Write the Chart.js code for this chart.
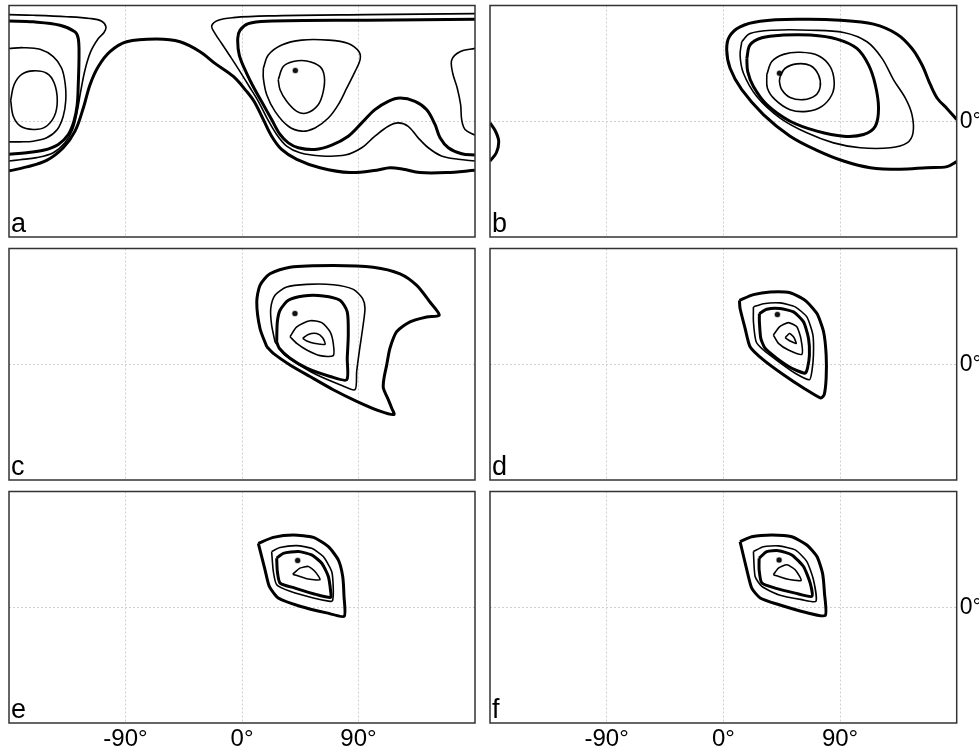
<!DOCTYPE html>
<html><head><meta charset="utf-8">
<script src="https://cdn.jsdelivr.net/npm/chart.js@4/dist/chart.umd.min.js"></script>
<style>
html,body{margin:0;padding:0;background:#fff;width:979px;height:748px;overflow:hidden;position:relative}
canvas{position:absolute}
</style></head><body>
<canvas id="pa" width="490" height="243" style="left:0;top:0"></canvas>
<canvas id="pb" width="499" height="243" style="left:480px;top:0"></canvas>
<canvas id="pc" width="490" height="243" style="left:0;top:243px"></canvas>
<canvas id="pd" width="499" height="243" style="left:480px;top:243px"></canvas>
<canvas id="pe" width="490" height="262" style="left:0;top:486px"></canvas>
<canvas id="pf" width="499" height="262" style="left:480px;top:486px"></canvas>
<script>
// ---------- axes ----------
const lonTicks = [-90, 0, 90];
const lonTickLabels = ['-90°', '0°', '90°'];
const latTicks = [0];
const latTickLabels = ['0°'];
const panelLabels = ['a', 'b', 'c', 'd', 'e', 'f'];

// ---------- panel a contours [lon, lat] ----------
const aL1 = [[-178.7,16.2],[-176.1,28.4],[-170.2,36.5],[-161.2,39.2],[-150.9,37.3],[-145,29.6],[-142.7,16.2],[-145,3.9],[-152.2,-4.6],[-161.2,-6.4],[-171,-3.9],[-176.7,3.9],[-178.7,16.2]];
const aL2 = [[-180,56.6],[-168.9,57.2],[-156,55.9],[-145.8,50.2],[-139.3,41.2],[-136.5,28.4],[-136.2,15.5],[-138.1,3.9],[-142.7,-6.4],[-150.9,-12.9],[-161.2,-15.5],[-171.5,-16],[-180,-16]];
const aL3 = [[-180,78],[-161.2,77.3],[-140.6,74.7],[-129,69.5],[-126.5,64.3],[-125.9,51.5],[-126.5,28.4],[-127.3,12.9],[-129.8,0],[-134.2,-10.3],[-141.9,-18],[-153.5,-22.6],[-166.3,-24.5],[-180,-25.7]];
const aL4 = [[-180,82.9],[-161.2,82.4],[-135.4,81.3],[-117.4,79.9],[-108.4,77.8],[-105.1,73.4],[-106.6,69],[-111,64.3],[-116.9,54.1],[-121.3,39.9],[-124.6,23.2],[-127.3,7.7],[-130.8,-6.4],[-136.8,-16.8],[-145.8,-24.5],[-158.6,-28.3],[-171.5,-29.9],[-180,-30.9]];
const aL5 = [[-180,-38.6],[-166.3,-35.5],[-150.9,-30.4],[-138.1,-20.6],[-129,-7.7],[-122.6,10.3],[-117.4,28.4],[-111,42.5],[-102,54.1],[-89.1,61.8],[-65.9,63.9],[-47.9,61.8],[-32.4,54.1],[-20.9,45],[-6.7,34.8],[3.6,23.2],[9.3,15.5],[16.5,1.3],[22.9,-11.6],[30.6,-21.9],[42.3,-29.6],[60.3,-36.1],[83.4,-39.9],[104,-38.1],[114.3,-36.1],[124.6,-37.3],[137.5,-39.9],[158.1,-39.9],[180,-38.1]];
const aR1 = [[180,83.7],[96.3,82.9],[20.3,81.9],[-6.7,80.6],[-18.3,78.6],[-23.4,74.2],[-20.9,68.3],[-15.7,60.5],[-9.8,51.5],[-1.5,38.6],[5.6,27],[12.6,15.5],[19.9,1.3],[26.8,-10.3],[34.5,-19.3],[44.8,-24.5],[61.6,-27],[79.6,-26.3],[92.5,-20.6],[102.7,-11.6],[113,-3.9],[120.7,-1.3],[128.4,-3.9],[136.1,-12.9],[143.9,-20.6],[154.1,-27],[167,-29.6],[180,-30.9]];
const aR2 = [[180,79.3],[96.3,78.6],[19.1,77.8],[4.9,75.9],[-1.5,70.8],[-3.3,64.3],[-2.1,51.5],[3.6,37.3],[10,24.5],[16.5,12.9],[22.9,1.3],[29.4,-10.3],[35.8,-16.8],[43.5,-20.6],[56.4,-21.9],[69.3,-18.5],[82.1,-11.6],[92.5,-1.3],[102.7,9],[113,15.5],[122.1,18],[133.6,15.5],[142.7,9],[149.1,-2.5],[153,-12.9],[159.4,-20.6],[169.7,-25.3],[180,-26.3]];
const aR3 = [[16.5,41.2],[20.3,51.5],[30.7,59.3],[46.1,63.1],[66.7,63.1],[82.1,60.5],[90.4,54.1],[91.2,47.7],[87.3,38.6],[80.9,25.7],[74.4,12.9],[66.7,2.5],[56.4,-5.2],[46.1,-7.7],[35.8,-3.9],[25.5,7.7],[19.1,20.6],[16.5,33.4],[16.5,41.2]];
const aR4 = [[28,32.2],[31.9,42.5],[39.6,46.4],[50,46.9],[60.3,42.5],[63.6,34.8],[62.8,23.2],[58.9,12.9],[50,6.4],[42.3,7.7],[34.5,15.5],[29.4,24.5],[28,32.2]];
const aR5 = [[180,56.7],[168.4,54.1],[162,47.7],[162.8,37.3],[166.3,25.7],[168.9,12.9],[169.7,1.3],[172.3,-6.4],[180,-10.8]];
const aMax = [41.2, 39.4];

// ---------- panel b ----------
const b1 = [[180,1.3],[172.6,9.8],[165.3,17.5],[159.7,28.4],[153.3,43.7],[145.5,56.6],[134,67.7],[115.9,75.5],[90.2,78.6],[59.3,79.3],[28.4,77.8],[12.9,73.4],[4.6,65.7],[2.6,55.4],[5.2,41.2],[14.2,24.5],[30.9,5.2],[51.5,-11.6],[72.2,-22.6],[92.7,-30.9],[113.3,-36.1],[136.5,-37.3],[157.1,-36.1],[172.6,-35.3],[180,-31.4]];
const b1w = [[-180,-1.3],[-175.8,-7.7],[-173.3,-15.5],[-175.1,-24.5],[-180,-30.9]];
const b2 = [[14.2,61.8],[20.6,68.2],[38.6,70.8],[67,70.8],[92.7,69],[110.8,61.8],[122.4,48.9],[131.3,32.2],[140.4,18],[145.5,5.2],[146.3,-9],[141.7,-16.8],[128.8,-20.6],[105.6,-20.6],[85,-16.8],[64.4,-9],[43.8,2.5],[25.8,19.3],[15.5,37.3],[12.9,51.5],[14.2,61.8]];
const b3 = [[18.1,48.9],[20.6,59.3],[29.7,64.9],[46.4,67],[67,67],[87.6,63.9],[103,56.6],[112,43.8],[117.2,28.4],[119.7,10.3],[117.2,-3.9],[108.2,-10.3],[92.7,-11.6],[72.2,-7.7],[51.5,0],[33.5,12.9],[23.2,27],[18.8,38.6],[18.1,48.9]];
const b4 = [[33.5,36.1],[37.4,46.4],[46.4,52],[59.3,53.6],[73.4,51],[82.4,42.5],[85.5,30.9],[83.7,20.6],[76,11.6],[64.4,7.7],[51.5,9],[39.9,16.8],[34,25.7],[33.5,36.1]];
const b5 = [[43.8,34.8],[47.7,41.2],[56.7,44.6],[67,43.3],[73.4,36.1],[74.7,27],[70.8,19.9],[61.8,16.8],[51.5,18.5],[45.1,24.5],[43.3,30.9],[43.8,34.8]];
const bMax = [43.3, 37.3];

// ---------- panel c ----------
const c1 = [[19.1,13.7],[13.9,27.8],[11.4,48.4],[13.9,61.3],[21.6,70.3],[37.1,75.5],[70.5,76.8],[101.4,75.5],[122.1,70.3],[135,61.3],[145.2,48.4],[152.4,38.2],[142.7,36.8],[129.8,33],[119.5,25.3],[114.3,12.4],[111.8,-0.5],[109.7,-10.8],[109.2,-18.5],[113,-27.5],[115.6,-34],[117.4,-39.1],[106.6,-36.5],[88.6,-28.8],[70.5,-19.8],[52.5,-9.5],[37.1,-0.5],[24.2,8.5],[19.1,13.7]];
const c2 = [[25.5,17.5],[22.9,30.4],[22.2,43.3],[25.5,53.6],[34.5,60],[50,62.1],[70.5,61.8],[86,58.2],[93.2,51],[95,43.3],[93.2,27.8],[90.6,9.8],[88.6,-5.6],[87.3,-19.8],[75.7,-15.9],[57.7,-8.2],[42.3,0.8],[31.9,8.5],[25.5,17.5]];
const c3 = [[26.8,17.5],[27.3,33],[29.4,42],[35.8,49.7],[47.4,53.1],[62.8,53.1],[75.7,49.7],[81.3,40.7],[82.1,22.7],[81.3,4.6],[80.9,-12.1],[68,-9.5],[50,-3.1],[37.1,4.6],[28.8,12.4],[26.8,17.5]];
const c4 = [[37.1,21.4],[42.3,29.1],[52.5,33.8],[61.6,32.4],[68,25.3],[70.5,16.2],[70.5,6.7],[60.3,6.7],[50,11.1],[42.3,16.2],[37.1,21.4]];
const c5 = [[46.9,20.1],[51.2,23.2],[57.7,23.9],[62.3,20.6],[64.1,15.5],[56.4,16.2],[50,18.1],[46.9,20.1]];
const cMax = [40.9, 39.4];

// ---------- panel d ----------
const d1 = [[12.4,49.7],[23.2,54.1],[36.1,56.2],[51.5,55.6],[63.1,49.7],[72.2,39.4],[77.3,25.3],[79.3,7.3],[79.3,-10.8],[77.8,-23.6],[75.2,-26.3],[61.8,-18.5],[46.4,-8.2],[30.9,3.4],[20.6,13.7],[16.8,27.8],[12.9,43.3],[12.4,49.7]];
const d2 = [[23.2,44.6],[30.9,47.1],[43.8,47.7],[55.4,44.6],[64.4,36.8],[69.1,22.7],[69.5,7.3],[68.3,-5.6],[66.4,-12.1],[55.4,-7],[42.5,2.1],[30.9,11.1],[25.3,17.5],[23.2,33],[23.2,44.6]];
const d3 = [[27.8,39.4],[33.5,42.8],[43.8,43.3],[54.1,40.7],[61.8,33],[65.7,20.1],[66.4,7.3],[64.9,-3.1],[63.1,-7],[52.8,-3.1],[41.3,4.6],[32.2,12.4],[28.9,20.1],[27.8,33],[27.8,39.4]];
const d4 = [[38.6,22.7],[43.3,29.1],[50.2,32.4],[56.7,29.1],[59.8,20.1],[60.6,7.7],[50.2,11.1],[42.5,16.2],[38.6,22.7]];
const d5 = [[47.7,20.6],[51,23.9],[54.1,21.4],[56.2,16.2],[51.5,18.1],[47.7,20.6]];
const dMax = [41.7, 38.6];

// ---------- panel e ----------
const e1 = [[12.6,49.7],[24.2,54.3],[39.6,56.2],[55.1,54.3],[66.7,47.1],[74.4,36.8],[77.8,23.9],[78.8,8.5],[79,-7],[65.4,-4.4],[44.8,0.8],[28,7.2],[21.1,16.2],[17.8,29.1],[12.6,49.7]];
const e2 = [[22.9,43.3],[29.4,46.4],[42.3,47.9],[53.8,45.8],[62.8,39.4],[69.3,27.8],[70.5,14.9],[70,5.2],[68,4.6],[55.1,7.2],[37.1,12.4],[26.8,17.5],[24.2,27.8],[22.9,43.3]];
const e3 = [[26.8,38.1],[31.9,41.9],[43.5,43.3],[53.8,40.7],[61.6,34.2],[66.7,23.9],[68.5,12.4],[68.5,7.7],[57.7,9.8],[40.9,14.9],[29.4,18.8],[27.3,27.8],[26.8,38.1]];
const e4 = [[39.2,25.7],[44.8,30.4],[51.2,31.7],[56.4,27.8],[60.3,21.4],[50,22.2],[39.2,25.7]];
const eMax = [43, 36.3];

// ---------- panel f ----------
const f1 = [[12.9,51],[21.9,54.8],[37.4,56.2],[52.8,54.8],[64.4,48.4],[72.2,39.4],[76.5,26.5],[78,11],[78.6,-6.4],[63.1,-3.9],[42.5,2.1],[28.4,7.2],[21.9,14.9],[18.1,29.1],[12.9,51]];
const f2 = [[23.2,43.3],[30.9,47.1],[42.5,47.7],[55.4,44.6],[64.4,35.5],[69.5,21.4],[71.4,4.6],[60.6,5.9],[42.5,9.8],[29.7,16.2],[24.5,23.9],[23.2,43.3]];
const f3 = [[27.6,38.1],[33.5,43.3],[42.5,44],[52.8,40.7],[61.8,31.7],[67,18.8],[68.3,8.5],[55.4,11],[39.9,14.9],[29.7,18.8],[27.6,29.1],[27.6,38.1]];
const f4 = [[38.6,25.3],[42.5,30.4],[49,33],[55.4,29.1],[60,20.9],[49,21.9],[38.6,25.3]];
const fMax = [43, 36.8];

// ---------- panel composition ----------
const panels = [
  {id:'pa', thick:[aL3, aL5, aR2], thin:[aL1, aL2, aL4, aR1, aR3, aR4, aR5], max:aMax, smooth:0.35},
  {id:'pb', thick:[b1, b1w, b3], thin:[b2, b4, b5], max:bMax, smooth:0.35},
  {id:'pc', thick:[c1, c3], thin:[c2, c4, c5], max:cMax, smooth:0.25},
  {id:'pd', thick:[d1, d3], thin:[d2, d4, d5], max:dMax, smooth:0.2},
  {id:'pe', thick:[e1, e3], thin:[e2, e4], max:eMax, smooth:0.2},
  {id:'pf', thick:[f1, f3], thin:[f2, f4], max:fMax, smooth:0.2}
];

const FONT = '"Liberation Sans", Arial, sans-serif';

const framePlugin = {
  id: 'frame',
  afterDraw(chart, args, opts) {
    const {ctx, chartArea: {left, top, right, bottom}} = chart;
    ctx.save();
    ctx.strokeStyle = '#333';
    ctx.lineWidth = 1.5;
    ctx.strokeRect(left, top, right - left, bottom - top);
    ctx.fillStyle = '#000';
    ctx.font = '27px ' + FONT;
    ctx.textAlign = 'left';
    ctx.textBaseline = 'alphabetic';
    ctx.fillText(opts.label, left + 2, bottom - 5);
    ctx.restore();
  }
};

function toPts(arr) { return arr.map(p => ({x: p[0], y: p[1]})); }

panels.forEach((p, i) => {
  const rightCol = i % 2 === 1;
  const bottomRow = i >= 4;
  const datasets = [];
  p.thick.forEach(c => datasets.push({data: toPts(c), showLine: true, borderColor: '#000', borderWidth: 3, pointRadius: 0, tension: p.smooth, fill: false}));
  p.thin.forEach(c => datasets.push({data: toPts(c), showLine: true, borderColor: '#000', borderWidth: 1.6, pointRadius: 0, tension: p.smooth, fill: false}));
  datasets.push({data: [{x: p.max[0], y: p.max[1]}], showLine: false, pointRadius: 2.5, backgroundColor: '#111', borderColor: 'rgba(0,0,0,0.3)', borderWidth: 1.5});
  new Chart(document.getElementById(p.id), {
    type: 'scatter',
    data: {datasets},
    options: {
      responsive: false,
      animation: false,
      events: [],
      layout: {padding: rightCol ? {left: 10, right: 0, top: 4, bottom: bottomRow ? 0 : 6} : {left: 9, right: 15, top: 4, bottom: bottomRow ? 0 : 6}},
      plugins: {legend: {display: false}, tooltip: {enabled: false}, frame: {label: panelLabels[i]}},
      scales: {
        x: {
          type: 'linear', min: -180, max: 180, position: 'bottom',
          afterBuildTicks: s => { s.ticks = lonTicks.map(v => ({value: v})); },
          afterFit: s => { s.height = bottomRow ? 25 : 0; s.paddingLeft = 0; s.paddingRight = 0; s.paddingTop = 0; s.paddingBottom = 0; },
          grid: {color: '#d0d0d0', lineWidth: 1, drawTicks: false},
          border: {display: false, dash: [2, 2]},
          ticks: {display: bottomRow, padding: 2, color: '#000', maxRotation: 0, autoSkip: false, font: {family: FONT, size: 24},
                  callback: (v, idx) => lonTickLabels[idx]}
        },
        y: {
          type: 'linear', min: -90, max: 90, position: 'right',
          afterBuildTicks: s => { s.ticks = latTicks.map(v => ({value: v})); },
          afterFit: s => { s.width = rightCol ? 22.3 : 0; s.paddingTop = 0; s.paddingBottom = 0; s.paddingLeft = 0; s.paddingRight = 0; },
          grid: {color: '#d0d0d0', lineWidth: 1, drawTicks: false},
          border: {display: false, dash: [2, 2]},
          ticks: {display: rightCol, padding: 3, color: '#000', font: {family: FONT, size: 23},
                  callback: (v, idx) => latTickLabels[idx]}
        }
      }
    },
    plugins: [framePlugin]
  });
});
</script>
</body></html>
